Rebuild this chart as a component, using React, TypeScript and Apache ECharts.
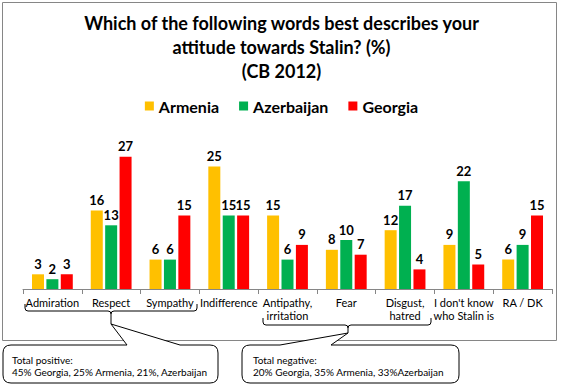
import React, { useEffect, useRef } from "react";
import * as echarts from "echarts";

const categories = [
  "Admiration",
  "Respect",
  "Sympathy",
  "Indifference",
  "Antipathy,\nirritation",
  "Fear",
  "Disgust,\nhatred",
  "I don't know\nwho Stalin is",
  "RA / DK",
];
const armenia = [3, 16, 6, 25, 15, 8, 12, 9, 6];
const azerbaijan = [2, 13, 6, 15, 6, 10, 17, 22, 9];
const georgia = [3, 27, 15, 15, 9, 7, 4, 5, 15];

const titleText =
  "Which of the following words best describes your\nattitude towards Stalin? (%)\n(CB 2012)";
const positiveLines = ["Total positive:", "45% Georgia, 25% Armenia, 21%, Azerbaijan"];
const negativeLines = ["Total negative:", "20% Georgia, 35% Armenia, 33%Azerbaijan"];

const FONT = "Lato, 'Open Sans', sans-serif";

const calloutLeft =
  "M11,345 L127,345 L111,324 L180,345 L210,345 Q218,345 218,353 L218,375 Q218,383 210,383 L11,383 Q3,383 3,375 L3,353 Q3,345 11,345 Z";
const calloutRight =
  "M250,345 L280,345 L348,333 L331,345 L451,345 Q459,345 459,353 L459,375 Q459,383 451,383 L250,383 Q242,383 242,375 L242,353 Q242,345 250,345 Z";
const braceLeft =
  "M25,304 L25,308 Q25,311 28,311 L108,311 Q111,311 111,314 L111,324 M111,314 Q111,311 114,311 L194,311 Q197,311 197,308 L197,304";
const braceRight =
  "M263,318 L263,322 Q263,325 266,325 L345,325 Q348,325 348,328 L348,333 M348,328 Q348,325 351,325 L428,325 Q431,325 431,322 L431,318";

echarts.graphic.registerShape("calloutLeft", echarts.graphic.extendPath(calloutLeft, {}) as any);
echarts.graphic.registerShape("calloutRight", echarts.graphic.extendPath(calloutRight, {}) as any);
echarts.graphic.registerShape("braceLeft", echarts.graphic.extendPath(braceLeft, {}) as any);
echarts.graphic.registerShape("braceRight", echarts.graphic.extendPath(braceRight, {}) as any);

export default function App() {
  const ref = useRef<HTMLDivElement>(null);
  useEffect(() => {
    document.body.style.margin = "0";
    if (!ref.current) return;
    const chart = echarts.init(ref.current, undefined, { renderer: "svg" });
    const barLabel = {
      show: true,
      position: "top" as const,
      distance: 4,
      color: "#000",
      fontSize: 13,
      fontWeight: "bold" as const,
      fontFamily: FONT,
    };
    const mk = (name: string, data: number[], color: string) => ({
      name,
      type: "bar" as const,
      data,
      barWidth: 12,
      barGap: "20%",
      itemStyle: { color },
      label: barLabel,
    });
    chart.setOption({
      animation: false,
      backgroundColor: "#fff",
      title: {
        text: titleText,
        left: "center",
        top: 6,
        textStyle: {
          fontSize: 18,
          fontWeight: "bold",
          lineHeight: 24,
          color: "#000",
          fontFamily: FONT,
        },
      },
      legend: {
        top: 93,
        left: "center",
        icon: "rect",
        itemWidth: 9,
        itemHeight: 9,
        itemGap: 20,
        textStyle: {
          fontSize: 16,
          fontWeight: "bold",
          color: "#000",
          lineHeight: 16,
          fontFamily: FONT,
        },
        data: ["Armenia", "Azerbaijan", "Georgia"],
      },
      grid: { left: 23, right: 11, top: 142, bottom: 98 },
      xAxis: {
        type: "category",
        data: categories,
        axisLine: { lineStyle: { color: "#868686", width: 1 } },
        axisTick: { show: true, length: 5, lineStyle: { color: "#868686" } },
        axisLabel: {
          interval: 0,
          margin: 7,
          fontSize: 11,
          lineHeight: 13,
          color: "#000",
          fontFamily: FONT,
        },
      },
      yAxis: {
        type: "value",
        min: 0,
        max: 30,
        show: false,
        splitLine: { show: false },
      },
      series: [
        mk("Armenia", armenia, "#FFC000"),
        mk("Azerbaijan", azerbaijan, "#00B050"),
        mk("Georgia", georgia, "#FF0000"),
      ],
      graphic: [
        {
          type: "rect",
          shape: { x: 2.5, y: 2.5, width: 554, height: 338 },
          style: { fill: "none", stroke: "#868686", lineWidth: 1 },
          silent: true,
        },
        {
          type: "braceLeft",
          x: 0,
          y: 0,
          style: { fill: "none", stroke: "#000", lineWidth: 1 },
          silent: true,
        },
        {
          type: "braceRight",
          x: 0,
          y: 0,
          style: { fill: "none", stroke: "#000", lineWidth: 1 },
          silent: true,
        },
        {
          type: "calloutLeft",
          x: 0,
          y: 0,
          style: { fill: "#fff", stroke: "#000", lineWidth: 1 },
          silent: true,
        },
        {
          type: "calloutRight",
          x: 0,
          y: 0,
          style: { fill: "#fff", stroke: "#000", lineWidth: 1 },
          silent: true,
        },
        {
          type: "text",
          x: 12,
          y: 354,
          style: {
            text: positiveLines.join("\n"),
            fontSize: 10,
            lineHeight: 12,
            fill: "#000",
            fontFamily: FONT,
          },
          silent: true,
        },
        {
          type: "text",
          x: 253,
          y: 354,
          style: {
            text: negativeLines.join("\n"),
            fontSize: 10,
            lineHeight: 12,
            fill: "#000",
            fontFamily: FONT,
          },
          silent: true,
        },
      ],
    });
    return () => chart.dispose();
  }, []);
  return <div ref={ref} style={{ width: 563, height: 387 }} />;
}
